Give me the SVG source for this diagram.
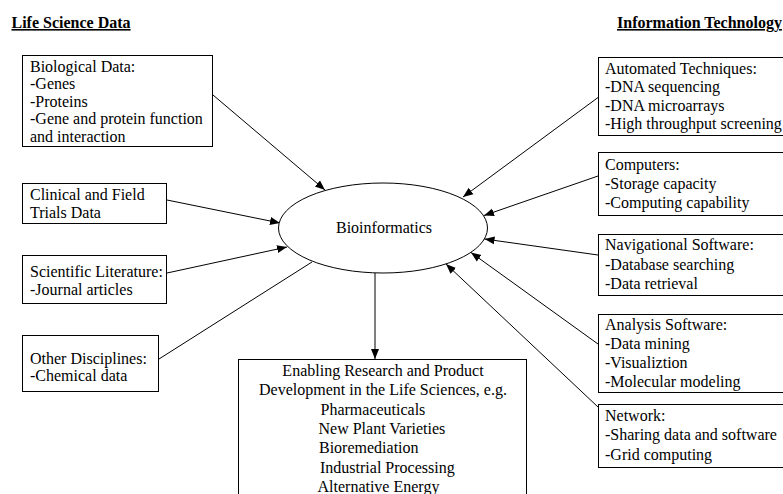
<svg xmlns="http://www.w3.org/2000/svg" width="783" height="494" viewBox="0 0 783 494">
<defs>
<style>
text{font-family:"Liberation Serif","Times New Roman",serif;font-size:16px;fill:#000}
.title{font-weight:bold;text-decoration:underline}
.box{fill:#fff;stroke:#000;stroke-width:1}
.edge{stroke:#000;stroke-width:1;fill:none;marker-end:url(#ah)}
.plain{stroke:#000;stroke-width:1;fill:none}
.c{text-anchor:middle}
</style>
<marker id="ah" viewBox="0 0 10 10" refX="10" refY="5" markerWidth="10" markerHeight="10" markerUnits="userSpaceOnUse" orient="auto">
<path d="M0,1 L10,5 L0,9 z" fill="#000"/>
</marker>
</defs>
<rect width="783" height="494" fill="#fff"/>
<text class="title" x="11.5" y="28">Life Science Data</text>
<text class="title" x="617" y="28">Information Technology</text>

<g id="connectors">
<line class="edge" x1="213" y1="95" x2="325" y2="190"/>
<line class="edge" x1="167" y1="200" x2="280" y2="223"/>
<line class="edge" x1="167" y1="273" x2="287" y2="247"/>
<line class="plain" x1="159" y1="359" x2="312" y2="262"/>
<line class="edge" x1="598" y1="97.5" x2="463" y2="197"/>
<line class="edge" x1="598" y1="176" x2="484" y2="215.5"/>
<line class="edge" x1="598" y1="255" x2="484.5" y2="239"/>
<line class="edge" x1="598" y1="344" x2="471" y2="252.5"/>
<line class="edge" x1="598" y1="407" x2="446" y2="264"/>
<line class="edge" x1="375" y1="273" x2="375" y2="359"/>
</g>

<g id="bio">
<rect class="box" x="22.5" y="55.5" width="190" height="91"/>
<text x="30" y="71.5">Biological Data:</text>
<text x="30" y="89">-Genes</text>
<text x="30" y="106.5">-Proteins</text>
<text x="30" y="124">-Gene and protein function</text>
<text x="30" y="141.5">and interaction</text>
</g>
<g id="clinical">
<rect class="box" x="22.5" y="183.5" width="144" height="40"/>
<text x="30" y="200">Clinical and Field</text>
<text x="30" y="218">Trials Data</text>
</g>
<g id="scientific">
<rect class="box" x="22.5" y="255.5" width="144" height="48"/>
<text x="30" y="277">Scientific Literature:</text>
<text x="30" y="295">-Journal articles</text>
</g>
<g id="other">
<rect class="box" x="22.5" y="335.5" width="136" height="56"/>
<text x="30" y="364">Other Disciplines:</text>
<text x="30" y="381">-Chemical data</text>
</g>

<g id="bioinformatics">
<ellipse cx="383" cy="228" rx="104.5" ry="45" fill="#fff" stroke="#000"/>
<text class="c" x="384" y="233">Bioinformatics</text>
</g>

<g id="enabling">
<rect class="box" x="238.5" y="359.5" width="288" height="150"/>
<text class="c" x="383" y="376">Enabling Research and Product</text>
<text class="c" x="383" y="395">Development in the Life Sciences, e.g.</text>
<text x="320.5" y="414.5">Pharmaceuticals</text>
<text x="318.5" y="434">New Plant Varieties</text>
<text x="319" y="453">Bioremediation</text>
<text x="320" y="472.5">Industrial Processing</text>
<text x="317.5" y="492">Alternative Energy</text>
</g>

<g id="automated">
<rect class="box" x="598.5" y="57.5" width="200" height="78"/>
<text x="605" y="73.5">Automated Techniques:</text>
<text x="605" y="92">-DNA sequencing</text>
<text x="605" y="110.5">-DNA microarrays</text>
<text x="605" y="129">-High throughput screening</text>
</g>
<g id="computers">
<rect class="box" x="598.5" y="152.5" width="200" height="63"/>
<text x="605" y="170">Computers:</text>
<text x="605" y="189">-Storage capacity</text>
<text x="605" y="208">-Computing capability</text>
</g>
<g id="navigational">
<rect class="box" x="598.5" y="234.5" width="200" height="61"/>
<text x="605" y="250">Navigational Software:</text>
<text x="605" y="269.5">-Database searching</text>
<text x="605" y="289">-Data retrieval</text>
</g>
<g id="analysis">
<rect class="box" x="598.5" y="314.5" width="200" height="78"/>
<text x="605" y="330">Analysis Software:</text>
<text x="605" y="349">-Data mining</text>
<text x="605" y="368">-Visualiztion</text>
<text x="605" y="387">-Molecular modeling</text>
</g>
<g id="network">
<rect class="box" x="598.5" y="404.5" width="200" height="63"/>
<text x="605" y="420.5">Network:</text>
<text x="605" y="440">-Sharing data and software</text>
<text x="605" y="459.5">-Grid computing</text>
</g>
</svg>
